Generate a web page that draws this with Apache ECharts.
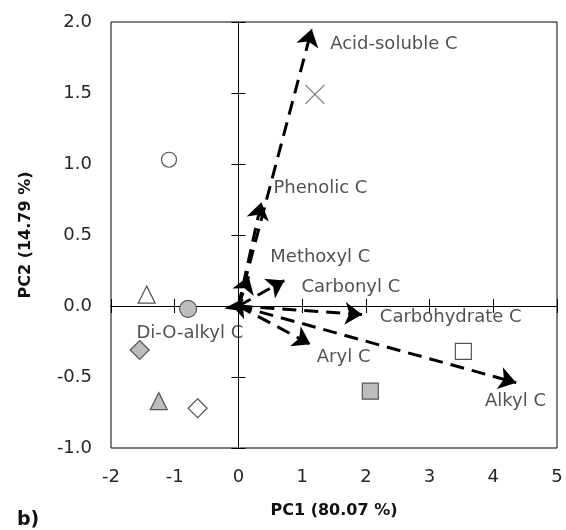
<!DOCTYPE html>
<html>
<head>
<meta charset="utf-8">
<script src="https://cdn.jsdelivr.net/npm/echarts@6/dist/echarts.min.js"></script>
<style>
  html, body { margin: 0; padding: 0; background: #fff; }
  #chart { width: 566px; height: 530px; }
</style>
</head>
<body>
<div id="chart"></div>
<script>
// loading vectors (PC1, PC2)
const arrowNames = ['Acid-soluble C', 'Phenolic C', 'Methoxyl C', 'Carbonyl C', 'Carbohydrate C', 'Aryl C', 'Alkyl C', 'Di-O-alkyl C']
const arrowX = [1.15, 0.36, 0.16, 0.72, 1.94, 1.13, 4.36, 0.06]
const arrowY = [1.95, 0.73, 0.21, 0.18, -0.06, -0.27, -0.54, 0.05]
// where each vector's name is written (left edge, middle)
const labelX = [1.44, 0.55, 0.5, 0.99, 2.22, 1.23, 3.87, -1.6]
const labelY = [1.84, 0.83, 0.34, 0.135, -0.08, -0.36, -0.67, -0.19]

// sample scores
const openCircle = [[-1.09, 1.03]]
const cross = [[1.2, 1.49]]
const openTriangle = [[-1.44, 0.08]]
const grayCircle = [[-0.79, -0.02]]
const grayDiamond = [[-1.55, -0.31]]
const grayTriangle = [[-1.25, -0.67]]
const openDiamond = [[-0.64, -0.72]]
const openSquare = [[3.53, -0.32]]
const graySquare = [[2.07, -0.6]]

const xTicks = [-2, -1, 0, 1, 2, 3, 4, 5]
const yTicks = [-1.0, -0.5, 0.0, 0.5, 1.0, 1.5, 2.0]

const font = 'DejaVu Sans'
const textColor = '#262626'

const chart = echarts.init(document.getElementById('chart'))

function sample(data, symbol, size, fill, border) {
  return {
    type: 'scatter',
    data: data,
    symbol: symbol,
    symbolSize: size,
    z: 3,
    itemStyle: {
      color: fill,
      borderColor: border || '#555',
      borderWidth: 1.2,
      opacity: 1
    }
  }
}

function xAxisBase() {
  return {
    type: 'value',
    min: xTicks[0],
    max: xTicks[xTicks.length - 1],
    interval: 1,
    splitLine: { show: false }
  }
}

function yAxisBase() {
  return {
    type: 'value',
    min: yTicks[0],
    max: yTicks[yTicks.length - 1],
    interval: 0.5,
    splitLine: { show: false }
  }
}

// zero lines with cross ticks: one axis ticks inward, one outward
function zeroAxis(base, position, inside) {
  return Object.assign(base, {
    position: position,
    axisLine: { show: true, onZero: true, onZeroAxisIndex: 0, lineStyle: { color: '#000', width: 1 } },
    axisTick: { show: true, inside: inside, length: 7, lineStyle: { color: '#000', width: 1 } },
    axisLabel: { show: false }
  })
}

chart.setOption({
  animation: false,
  backgroundColor: '#fff',
  title: {
    text: 'b)',
    left: 12,
    top: 506,
    textStyle: { fontFamily: font, fontSize: 19, fontWeight: 'bold', color: '#111' }
  },
  grid: {
    left: 111,
    right: 9,
    top: 22,
    bottom: 82,
    show: true,
    borderColor: '#000',
    borderWidth: 1,
    backgroundColor: 'transparent'
  },
  xAxis: [
    Object.assign(xAxisBase(), {
      position: 'bottom',
      name: 'PC1 (80.07 %)',
      nameLocation: 'middle',
      nameGap: 55,
      nameTextStyle: { fontFamily: font, fontSize: 16, fontWeight: 'bold', color: '#111' },
      axisLine: { show: false, onZero: false },
      axisTick: { show: false },
      axisLabel: { margin: 20, fontFamily: font, fontSize: 18, color: textColor }
    }),
    zeroAxis(xAxisBase(), 'bottom', true),
    zeroAxis(xAxisBase(), 'bottom', false)
  ],
  yAxis: [
    Object.assign(yAxisBase(), {
      position: 'left',
      name: 'PC2 (14.79 %)',
      nameLocation: 'middle',
      nameGap: 77,
      nameTextStyle: { fontFamily: font, fontSize: 16, fontWeight: 'bold', color: '#111' },
      axisLine: { show: false, onZero: false },
      axisTick: { show: false },
      axisLabel: {
        margin: 19,
        fontFamily: font,
        fontSize: 18,
        color: textColor,
        formatter: v => v.toFixed(1)
      }
    }),
    zeroAxis(yAxisBase(), 'left', true),
    zeroAxis(yAxisBase(), 'left', false)
  ],
  series: [
    {
      type: 'lines',
      coordinateSystem: 'cartesian2d',
      z: 4,
      symbol: ['none', 'arrow'],
      symbolSize: [11, 17],
      lineStyle: { color: '#000', width: 3, type: [14, 8], opacity: 1, curveness: 0 },
      data: arrowNames.map((name, i) => ({ name: name, coords: [[0, 0], [arrowX[i], arrowY[i]]] }))
    },
    {
      type: 'scatter',
      symbolSize: 0,
      z: 5,
      silent: true,
      label: {
        show: true,
        position: 'right',
        distance: 0,
        formatter: p => p.name,
        fontFamily: font,
        fontSize: 18,
        color: textColor
      },
      data: arrowNames.map((name, i) => ({ name: name, value: [labelX[i], labelY[i]] }))
    },
    sample(openCircle, 'circle', 15, '#fff'),
    sample(cross, 'path://M0,0L10,10M10,0L0,10', 19, 'none', '#777'),
    sample(openTriangle, 'triangle', 17, '#fff'),
    sample(grayCircle, 'circle', 17, '#bdbdbd'),
    sample(grayDiamond, 'diamond', 19, '#bdbdbd'),
    sample(grayTriangle, 'triangle', 17, '#bdbdbd'),
    sample(openDiamond, 'diamond', 19, '#fff'),
    sample(openSquare, 'rect', 16, '#fff'),
    sample(graySquare, 'rect', 16, '#bdbdbd')
  ]
})
</script>
</body>
</html>
